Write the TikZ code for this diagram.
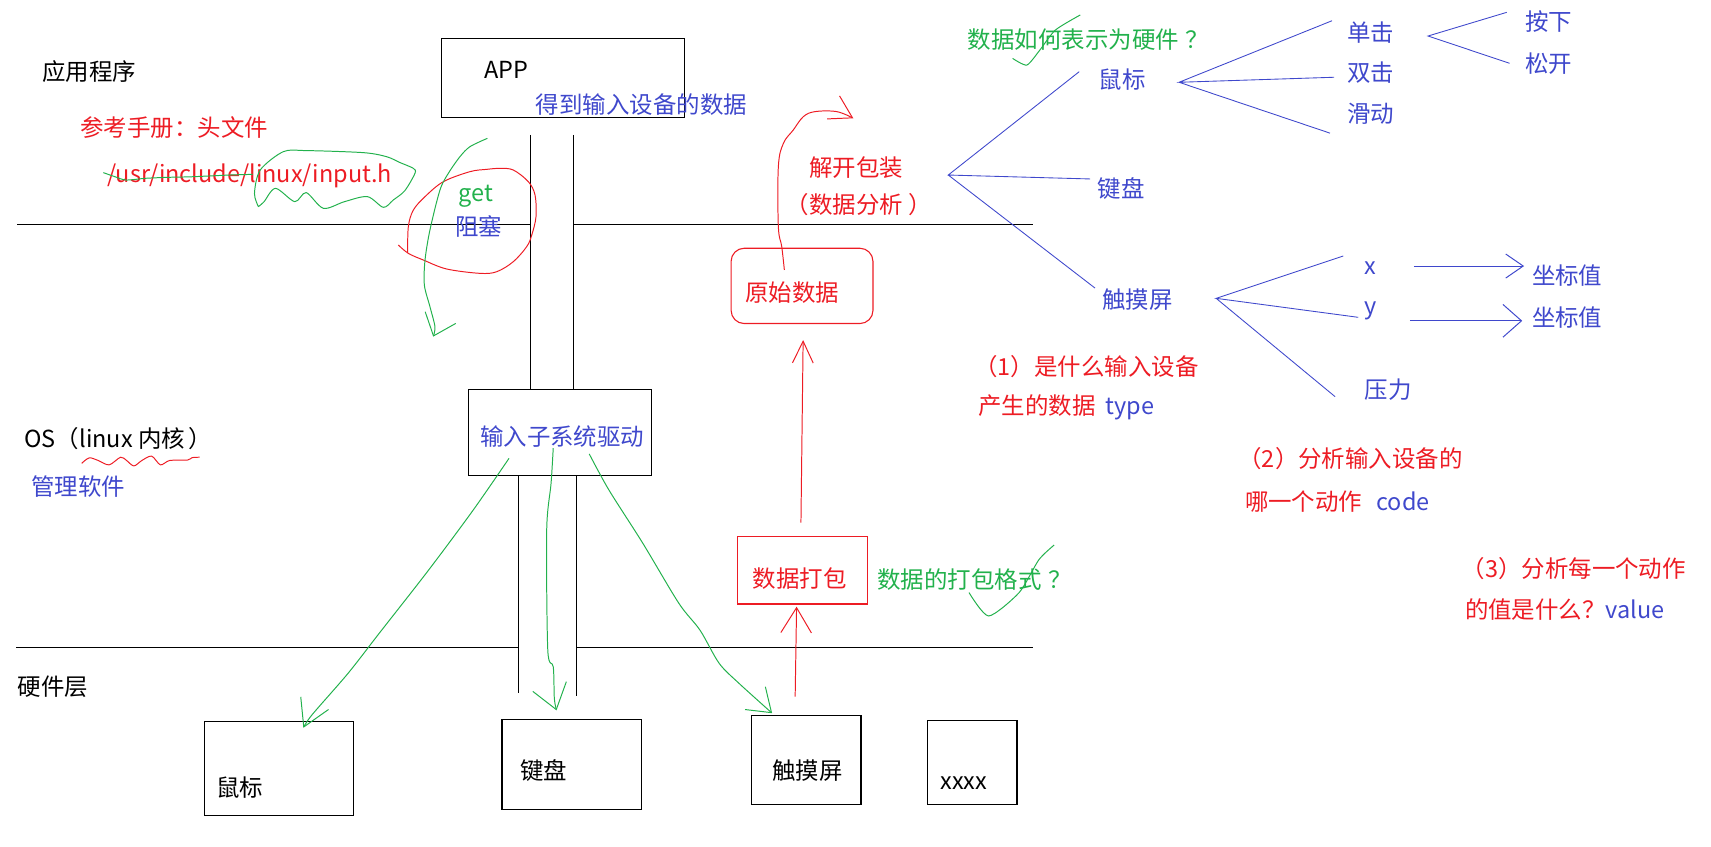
\documentclass[tikz,border=0pt]{standalone}
\usepackage{fontspec}
\newfontfamily\cjk{Noto Sans CJK SC}
\usetikzlibrary{arrows.meta}
\definecolor{pred}{HTML}{ED1C24}
\definecolor{pgreen}{HTML}{22B14C}
\definecolor{pblue}{HTML}{3F48CC}
\begin{document}
\begin{tikzpicture}[x=0.5pt,y=-0.5pt,
  txt/.style={anchor=west,inner sep=0pt,outer sep=0pt,font=\cjk\fontsize{10.75}{12}\selectfont},
  bk/.style={txt,text=black},
  bl/.style={txt,text=pblue},
  rd/.style={txt,text=pred},
  gr/.style={txt,text=pgreen},
  frame/.style={draw=black,line width=0.5pt,anchor=north west,inner sep=0pt,outer sep=0pt},
  sepline/.style={draw=black,line width=0.5pt},
  fan/.style={draw=pblue,line width=0.4pt},
  gpen/.style={draw=pgreen,line width=0.45pt},
  rpen/.style={draw=pred,line width=0.45pt},
  bpen/.style={draw=pblue,line width=0.45pt},
]
\useasboundingbox (0,0) rectangle (1568,776);

% boxes
\node[frame,minimum width=111pt,minimum height=36.5pt] (app) at (405,35) {};
\node[frame,minimum width=84pt,minimum height=39.5pt] (drv) at (429,357) {};
\node[frame,minimum width=68.5pt,minimum height=43pt] (mbox) at (187,661) {};
\node[frame,minimum width=64pt,minimum height=41.5pt] (kbox) at (460,659) {};
\node[frame,minimum width=50pt,minimum height=40.5pt] (tbox) at (689,656) {};
\node[frame,minimum width=41pt,minimum height=38.5pt] (xbox) at (850,660) {};
\node[frame,draw=pred,minimum width=59.5pt,minimum height=30.75pt] (pack) at (676,492) {};
\node[frame,draw=pred,rounded corners=6pt,minimum width=65pt,minimum height=34.5pt] (raw) at (670,227.5) {};

% separator lines and pipes
\draw[sepline] (16,205.5) -- (486.3,205.5) (525.4,205.5) -- (947,205.5);
\draw[sepline] (15,593) -- (475.5,593) (528,593) -- (947,593);
\draw[sepline] (486.3,123.7) -- (486.3,357) (525.4,123.7) -- (525.4,357);
\draw[sepline] (475.5,436) -- (475.5,635) (528,436) -- (528,638);

% left labels
\node[bk] (lapp) at (38.6,66) {应用程序};
\node[rd] (lref) at (73.7,117) {参考手册：头文件};
\node[rd] (lpath) at (98.2,161) {/usr/include/linux/input.h};
\node[bk] (los) at (22.5,401.6) {OS（linux 内核\hspace{1.5pt}）};
\node[bl] (lmgr) at (28.6,446) {管理软件};
\node[bk] (lhw) at (16.4,629.6) {硬件层};

% box texts
\node[bk] (tapp) at (444,64) {APP};
\node[bl] (tget) at (491,95.5) {得到输入设备的数据};
\node[gr] (get) at (420.6,180.2) {get};
\node[bl] (block) at (417,207.7) {阻塞};
\node[bl] (tdrv) at (440,399.6) {输入子系统驱动};
\node[bk] (tm) at (198,722) {鼠标};
\node[bk] (tk) at (477,706) {键盘};
\node[bk] (tt) at (707.7,706) {触摸屏};
\node[bk] (tx) at (862,718) {xxxx};
\node[rd] (tpack) at (690,530) {数据打包};
\node[gr] (fmt) at (804,531.5) {数据的打包格式\hspace{3pt}？};
\node[rd] (traw) at (683,268.5) {原始数据};
\node[rd] (unpack) at (741.7,153.3) {解开包装};
\node[rd] (ana) at (720,187.9) {（数据分析\hspace{2.5pt}）};

% right tree
\node[gr] (q) at (887,36) {数据如何表示为硬件\hspace{3pt}？};
\node[bl] (rm) at (1007,73) {鼠标};
\node[bl] (rk) at (1006,172.6) {键盘};
\node[bl] (rt) at (1010,275) {触摸屏};
\node[bl] (c1) at (1234.5,29.6) {单击};
\node[bl] (c2) at (1234.5,66.6) {双击};
\node[bl] (c3) at (1234.5,104) {滑动};
\node[bl] (p1) at (1398,20) {按下};
\node[bl] (p2) at (1398,58) {松开};
\node[bl] (vx) at (1250.6,245.3) {x};
\node[bl] (vy) at (1250.6,285) {y};
\node[bl] (vp) at (1250.6,357) {压力};
\node[bl] (cx) at (1404,253) {坐标值};
\node[bl] (cy) at (1404,291) {坐标值};

% notes
\node[rd] (n1a) at (893,336) {（1）是什么输入设备};
\node[rd] (n1b) at (896.7,373) {产生的数据\hspace{4.5pt}\textcolor{pblue}{type}};
\node[rd] (n2a) at (1135,420) {（2）分析输入设备的};
\node[rd] (n2b) at (1141,460) {哪一个动作\hspace{6.5pt}\textcolor{pblue}{code}};
\node[rd] (n3a) at (1339.5,521) {（3）分析每一个动作};
\node[rd] (n3b) at (1342.6,559) {的值是什么？\textcolor{pblue}{value}};

% blue fans
\coordinate (f0) at (869,160.4);
\draw[fan] (989,65.7) -- (f0) -- (999,164) (f0) -- (1003.5,264);
\coordinate (f1) at (1080.5,75.4);
\draw[fan] (1220.7,19) -- (f1) -- (1222.6,70.8) (f1) -- (1218.8,122);
\coordinate (f2) at (1308.7,33);
\draw[fan] (1380.8,11.3) -- (f2) -- (1383.4,58);
\coordinate (f3) at (1114.5,273.4);
\draw[fan] (1231,234.6) -- (f3) -- (1244.7,290.8) (f3) -- (1223.5,363.5);
\draw[bpen,-{Straight Barb[length=8pt,width=11pt]}] (1295.8,243.8) -- (1396.7,243.8);
\draw[bpen,-{Straight Barb[length=8.5pt,width=15pt]}] (1292,294) -- (1395,294);

% red arrows
\draw[rpen,-{Straight Barb[length=11.5pt,width=14pt]}] (728.7,638.5) -- (730,556);
\draw[rpen,-{Straight Barb[length=10pt,width=9.5pt]}] (734,479) -- (736,311.6);
\draw[rpen,-{Straight Barb[length=10pt,width=12pt]}] plot[smooth,tension=0.6] coordinates {(718.8,247.4) (716.4,226) (713.3,207.7) (713.3,152.7) (717.9,131.4) (727,119.1) (736.2,106.9) (746.9,102.3) (766.8,102.3) (782,108.4)};

% red circle around get
\draw[rpen] plot[smooth,tension=0.55] coordinates {(365,224.5) (374.2,232.2) (388,238.3) (409.3,246.5) (439.9,250.5) (455.2,249) (470.4,239.8) (482.7,226) (487.3,215.4) (491.2,198.6) (490.3,178.7) (484.2,166.5) (470.4,155.8) (458.2,154.3) (446,155.2) (430.7,157.3) (406.3,166.5) (389.5,180.2) (378.8,192.5) (374.2,207.7) (373.6,232.2)};

% red wavy underline
\draw[rpen] plot[smooth,tension=0.5] coordinates {(74.9,424.6) (81.8,419.6) (90,422) (100,426) (110.5,419) (116,422) (122.7,427) (130,422) (139,418) (147,426) (155.5,422) (171.8,421.6) (176,419.4) (183,419)};

% green strike and loop
\draw[gpen] plot[smooth,tension=0.5] coordinates {(94.7,158.2) (105.2,161.9) (115.7,165) (133.3,163.4) (154.3,162.5) (175.4,162) (210.4,160.4) (231.5,159.8)};
\draw[gpen] plot[smooth,tension=0.5] coordinates {(236.8,189.4) (233.2,177.2) (238.5,155.8) (259.6,139) (280.6,138) (333.2,139.9) (354.3,143.6) (366.6,149) (378.8,154.3) (380.3,158.8) (371,174.7) (360.4,183.3) (351.3,190) (336.7,180.2) (315.7,184.8) (296.4,190.9) (280.6,176.5) (270.1,184.8) (252.5,172.6) (242,184.8) (236.8,189.4)};

% green get arrow
\draw[gpen,-{Straight Barb[length=9pt,width=15pt]}] plot[smooth,tension=0.5] coordinates {(446.6,126.8) (430.7,134.4) (421.5,143.6) (410.9,158.8) (403.2,174.1) (394,210.8) (389.5,238.3) (388.9,261.2) (394,281) (398.6,299.4) (397,308.5)};

% green check marks
\draw[gpen] plot[smooth,tension=0.4] coordinates {(928,53.5) (941,59.6) (953,45.8) (967.2,27.5) (990,13.7)};
\draw[gpen] plot[smooth,tension=0.4] coordinates {(888,543) (906,564.5) (934,543) (952,513) (966,499.5)};

% green arrows from driver to devices
\draw[gpen,-{Straight Barb[length=12pt,width=14pt]}] plot[smooth,tension=0.5] coordinates {(466.5,420) (433.6,467.5) (392.8,522.4) (347.8,580) (319,617) (286,655) (278,667)};
\draw[gpen,-{Straight Barb[length=11pt,width=16pt]}] plot[smooth,tension=0.5] coordinates {(507,410.6) (505,443) (501,485.7) (502,595.7) (507,611) (508,640) (510,651)};
\draw[gpen,-{Straight Barb[length=10pt,width=14pt]}] plot[smooth,tension=0.5] coordinates {(540,416) (558,449) (589,497.7) (622,552.7) (641.5,577.5) (659,607.8) (677,626) (707.6,653.6)};
\end{tikzpicture}
\end{document}
